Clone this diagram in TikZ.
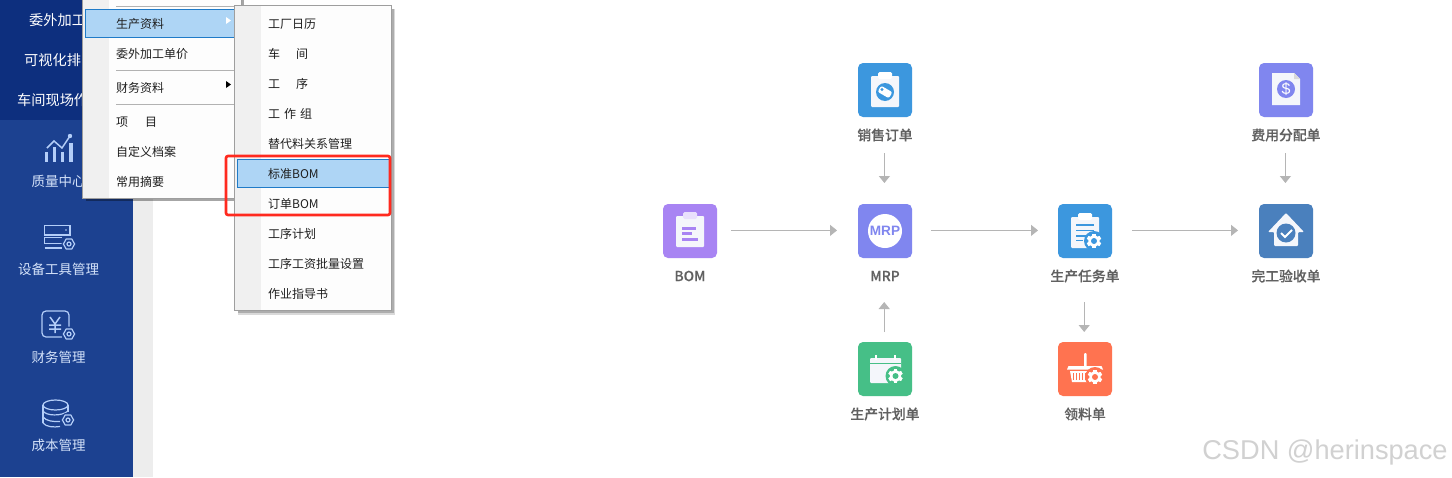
\documentclass[tikz,border=0pt]{standalone}
\usepackage{fontspec}
\setmainfont{Noto Sans CJK SC}
\newfontfamily\latinsans{Liberation Sans}
\newfontfamily\labelfont[FakeBold=0.3]{Noto Sans CJK SC Medium}
\usetikzlibrary{arrows.meta}
\definecolor{sidedark}{HTML}{0D2F7E}
\definecolor{sideblue}{HTML}{1C4190}
\definecolor{sideline}{HTML}{B4CEF8}
\definecolor{sidetext}{HTML}{D5E3FA}
\definecolor{gutter}{HTML}{F0F0F0}
\definecolor{menubg}{HTML}{FDFDFD}
\definecolor{hilite}{HTML}{AED5F5}
\definecolor{hiline}{HTML}{1F7BC8}
\definecolor{arrowgrey}{HTML}{B5B5B5}
\definecolor{paper}{HTML}{F4F6FB}
\definecolor{cblue}{HTML}{3C97DE}
\definecolor{cpurple}{HTML}{A884F3}
\definecolor{cindigo}{HTML}{8086EF}
\definecolor{csteel}{HTML}{4A80BD}
\definecolor{cgreen}{HTML}{46BF87}
\definecolor{corange}{HTML}{FF7350}
\tikzset{
  icon/.style={minimum size=54pt,inner sep=0pt,outer sep=0pt,rounded corners=5pt,fill=#1},
  iconlabel/.style={inner sep=0pt,text=black!62,font=\labelfont\fontsize{13.8}{14}\selectfont},
  flow/.style={draw=arrowgrey,line width=1pt,-{Triangle[length=7pt,width=11pt]}},
  menuitem/.style={anchor=west,inner sep=0pt,text=black!88,text height=10pt,text depth=2pt,yshift=-1.5pt,font=\fontsize{12}{13}\selectfont},
  sidetxt/.style={inner sep=0pt,text=sidetext,font=\fontsize{13.5}{14}\selectfont},
  toptxt/.style={anchor=west,inner sep=0pt,text=white,font=\fontsize{14.2}{15}\selectfont},
  sep/.style={draw=black!30,line width=.8pt},
  sline/.style={draw=sideline,line width=1.2pt},
}
% solid gear: fg teeth on a bg disc
\newcommand{\sgear}[4]{% x,y,fg,bg
  \fill[#4] (#1,#2) circle (10);
  \foreach \a in {0,60,...,300}{
    \fill[#3,rotate around={\a:(#1,#2)}] (#1-1.7,#2-7.2) rectangle (#1+1.7,#2+7.2);
  }
  \fill[#3] (#1,#2) circle (5.7);
  \fill[#4] (#1,#2) circle (3);
}
% outline gear for the side bar
\newcommand{\ogear}[2]{%
  \fill[sideblue] (#1,#2) circle (7.5);
  \draw[sline] (#1-5.6,#2) -- (#1-2.8,#2-5) -- (#1+2.8,#2-5) -- (#1+5.6,#2) -- (#1+2.8,#2+5) -- (#1-2.8,#2+5) -- cycle;
  \draw[sline] (#1,#2) circle (2);
}
\begin{document}
\begin{tikzpicture}[x=1pt,y=-1pt]
\useasboundingbox (0,0) rectangle (1452,477);
\fill[white] (0,0) rectangle (1452,477);
% side bar
\fill[sideblue] (0,120) rectangle (133,477);
\fill[sidedark] (0,0) rectangle (133,120);
\fill[black!7] (133,0) rectangle (153,477);
\node[toptxt] (t1) at (29,20.5) {委外加工};
\node[toptxt] (t2) at (24,60.5) {可视化排};
\node[toptxt] (t3) at (17,100.5) {车间现场作};
\node[sidetxt] (s1) at (58.5,181) {质量中心};
\node[sidetxt] (s2) at (58.5,269) {设备工具管理};
\node[sidetxt] (s3) at (58.5,357) {财务管理};
\node[sidetxt] (s4) at (58.5,445) {成本管理};
% side icons
\foreach \x/\t in {46.5/152,54.5/147,62.5/152,71/143}{
  \fill[sideline] (\x-1.6,\t) rectangle (\x+1.6,162);
}
\draw[sline,line width=1.5pt] (47,148) -- (54,141) -- (62,148) -- (70,136);
\fill[sideline] (70,136) circle (2.2);
\draw[sline] (44.5,225.5) rectangle (70,235);
\fill[sideline] (66,230) circle (.9);
\draw[sline] (62,237.5) -- (44.5,237.5) -- (44.5,243.5) -- (62,243.5);
\draw[sline] (44.5,248) -- (62,248);
\ogear{69}{244}
\draw[sline,rounded corners=4pt] (62,337) -- (42,337) -- (42,311) -- (69,311) -- (69,330);
\draw[sline,line width=1.5pt] (50,317) -- (55,324) -- (60,317) (55,324) -- (55,333) (49,325) -- (61,325) (49,329) -- (61,329);
\ogear{69}{334}
\draw[sline] (43,405) -- (43,423) (68,405) -- (68,412);
\draw[sline] (55.5,405) ellipse (12.5 and 5);
\draw[sline] (43,411) .. controls (46,416) and (62,416.5) .. (68,411);
\draw[sline] (43,417) .. controls (46,421) and (54,422) .. (60,421.5);
\draw[sline] (43,423) .. controls (46,427) and (54,427.5) .. (60,426.5);
\ogear{68}{420}
% first menu
\fill[black,opacity=.35] (86,0) rectangle (244,201);
\fill[menubg,draw=black!38,line width=.8pt] (82.5,-2) rectangle (241,198);
\fill[gutter] (83,0) rectangle (109,197.5);
\draw[sep] (116,6) -- (234,6);
\draw[sep] (116,70) -- (234,70);
\draw[sep] (116,104) -- (234,104);
\fill[hilite,draw=hiline,line width=.9pt] (85.5,9.5) rectangle (236,37);
\fill[white] (226,17) -- (231,20.5) -- (226,24) -- cycle;
\fill[black] (226,81) -- (231,84.5) -- (226,88) -- cycle;
\node[menuitem] (a1) at (116,23) {生产资料};
\node[menuitem] (a2) at (116,53) {委外加工单价};
\node[menuitem] (a3) at (116,87) {财务资料};
\node[menuitem] (a4) at (116,121) {项\hspace{17pt}目};
\node[menuitem] (a5) at (116,151) {自定义档案};
\node[menuitem] (a6) at (116,181) {常用摘要};
% second menu
\fill[black,opacity=.15] (238,9) rectangle (395,314.5);
\fill[black,opacity=.2] (238,9) rectangle (393.5,312.5);
\fill[menubg,draw=black!38,line width=.8pt] (234.5,5.5) rectangle (391,310);
\fill[gutter] (235,6) rectangle (261,309.5);
\fill[hilite,draw=hiline,line width=.9pt] (237.5,159.5) rectangle (389,187);
\node[menuitem] (b1) at (268,23) {工厂日历};
\node[menuitem] (b2) at (268,53) {车\hspace{16pt}间};
\node[menuitem] (b3) at (268,83) {工\hspace{16pt}序};
\node[menuitem] (b4) at (268,113) {工\hspace{4pt}作\hspace{4pt}组};
\node[menuitem] (b5) at (268,143) {替代料关系管理};
\node[menuitem] (b6) at (268,173) {标准BOM};
\node[menuitem] (b7) at (268,203) {订单BOM};
\node[menuitem] (b8) at (268,233) {工序计划};
\node[menuitem] (b9) at (268,263) {工序工资批量设置};
\node[menuitem] (b10) at (268,293) {作业指导书};
\draw[draw={rgb,255:red,255;green,42;blue,31},line width=2.6pt,rounded corners=2pt] (226,156) rectangle (390,215);
% flow icons
\node[icon=cpurple] (bom) at (690,231) {};
\node[icon=cindigo] (mrp) at (885,231) {};
\node[icon=cblue] (so) at (885,90) {};
\node[icon=cblue] (task) at (1085,231) {};
\node[icon=csteel] (done) at (1286,231) {};
\node[icon=cindigo] (fee) at (1286,90) {};
\node[icon=cgreen] (plan) at (885,369) {};
\node[icon=corange] (pick) at (1085,369) {};
% labels
\node[iconlabel] (bomL) at (690,276) {BOM};
\node[iconlabel] (mrpL) at (885,276) {MRP};
\node[iconlabel] (soL) at (885,135) {销售订单};
\node[iconlabel] (taskL) at (1085,276) {生产任务单};
\node[iconlabel] (doneL) at (1286,276) {完工验收单};
\node[iconlabel] (feeL) at (1286,135) {费用分配单};
\node[iconlabel] (planL) at (885,414) {生产计划单};
\node[iconlabel] (pickL) at (1085,414) {领料单};
% connectors
\draw[flow,shorten <=14pt,shorten >=21pt] ([yshift=.6pt]bom.east) -- ([yshift=.6pt]mrp.west);
\draw[flow,shorten <=19pt,shorten >=20pt] ([yshift=.6pt]mrp.east) -- ([yshift=.6pt]task.west);
\draw[flow,shorten <=20pt,shorten >=21pt] ([yshift=.6pt]task.east) -- ([yshift=.6pt]done.west);
\draw[flow,shorten <=36pt,shorten >=21pt] ([xshift=-.6pt]so.south) -- ([xshift=-.6pt]mrp.north);
\draw[flow,shorten <=36pt,shorten >=21pt] ([xshift=-.6pt]fee.south) -- ([xshift=-.6pt]done.north);
\draw[flow,shorten <=10pt,shorten >=44pt] ([xshift=-.8pt]plan.north) -- ([xshift=-.8pt]mrp.south);
\draw[flow,shorten <=44pt,shorten >=10pt] ([xshift=-.8pt]task.south) -- ([xshift=-.8pt]pick.north);
% BOM glyph
\fill[paper,rounded corners=1pt] (676,216) rectangle (704,247);
\fill[cpurple!25,rounded corners=1.5pt] (683,212) rectangle (697,219);
\fill[cpurple] (682,227) rectangle (696,230);
\fill[cpurple] (682,232) rectangle (692,235);
\fill[cpurple] (682,237.5) rectangle (698,240.5);
% MRP glyph
\fill[white] (885,231) circle (17);
\node[inner sep=0pt,text=cindigo,font=\latinsans\bfseries\fontsize{13.6}{15}\selectfont] (mrpT) at (885,231) {MRP};
% sales order glyph
\fill[paper,rounded corners=1pt] (871,76) rectangle (899,107);
\fill[white,rounded corners=1.5pt] (878,72) rectangle (892,79);
\fill[cblue] (885,92) circle (9);
\fill[white,rounded corners=2pt,rotate around={-30:(885,92)}] (878.5,88.5) rectangle (891.5,95.5);
\fill[cblue] (882,89.5) circle (1.6);
% fee glyph
\fill[paper] (1272,73) -- (1294,73) -- (1300,79) -- (1300,105) -- (1272,105) -- cycle;
\fill[black!15] (1294,73) -- (1300,79) -- (1294,79) -- cycle;
\fill[cindigo] (1286,89) circle (9);
\node[inner sep=0pt,text=white,font=\latinsans\fontsize{16}{16}\selectfont] (feeT) at (1286,89) {\$};
% task glyph
\fill[paper,rounded corners=1pt] (1071,217) rectangle (1099,248);
\fill[white,rounded corners=1.5pt] (1078,213) rectangle (1092,220);
\foreach \y/\e in {225/1094,230.5/1094,236/1088,240.5/1083}{
  \fill[cblue] (1076,\y-.9) rectangle (\e,\y+.9);
}
\sgear{1094}{241}{white}{cblue}
% done glyph
\fill[paper,rounded corners=1pt] (1268,232) -- (1286,213) -- (1304,232) -- (1298,232) -- (1298,246) -- (1274,246) -- (1274,232) -- cycle;
\fill[csteel] (1286,233) circle (9.5);
\draw[white,line width=2pt] (1281,233) -- (1285,237) -- (1292,230);
% plan glyph
\fill[paper,rounded corners=1pt] (870,358) rectangle (901,383);
\fill[cgreen] (870,362.5) rectangle (901,363.3);
\fill[white] (875,354.5) rectangle (877,360);
\fill[white] (894,354.5) rectangle (896,360);
\sgear{895.5}{376}{white}{cgreen}
% pick glyph
\fill[white,rounded corners=1pt] (1084,353) rectangle (1086.5,369);
\fill[white] (1067,369.5) -- (1068.5,366) -- (1101.5,366) -- (1103,369.5) -- cycle;
\fill[white] (1070,371) -- (1090,371) -- (1090,382) -- (1072,382) -- cycle;
\foreach \x in {1073,1076,1079,1082,1085}{
  \fill[corange] (\x,373) rectangle (\x+1,380);
}
\sgear{1095}{377}{white}{corange}
% watermark
\node[inner sep=0pt,text=black!18,font=\latinsans\fontsize{27.2}{28}\selectfont] (wm) at (1325,452.5) {CSDN @herinspace};
\end{tikzpicture}
\end{document}
